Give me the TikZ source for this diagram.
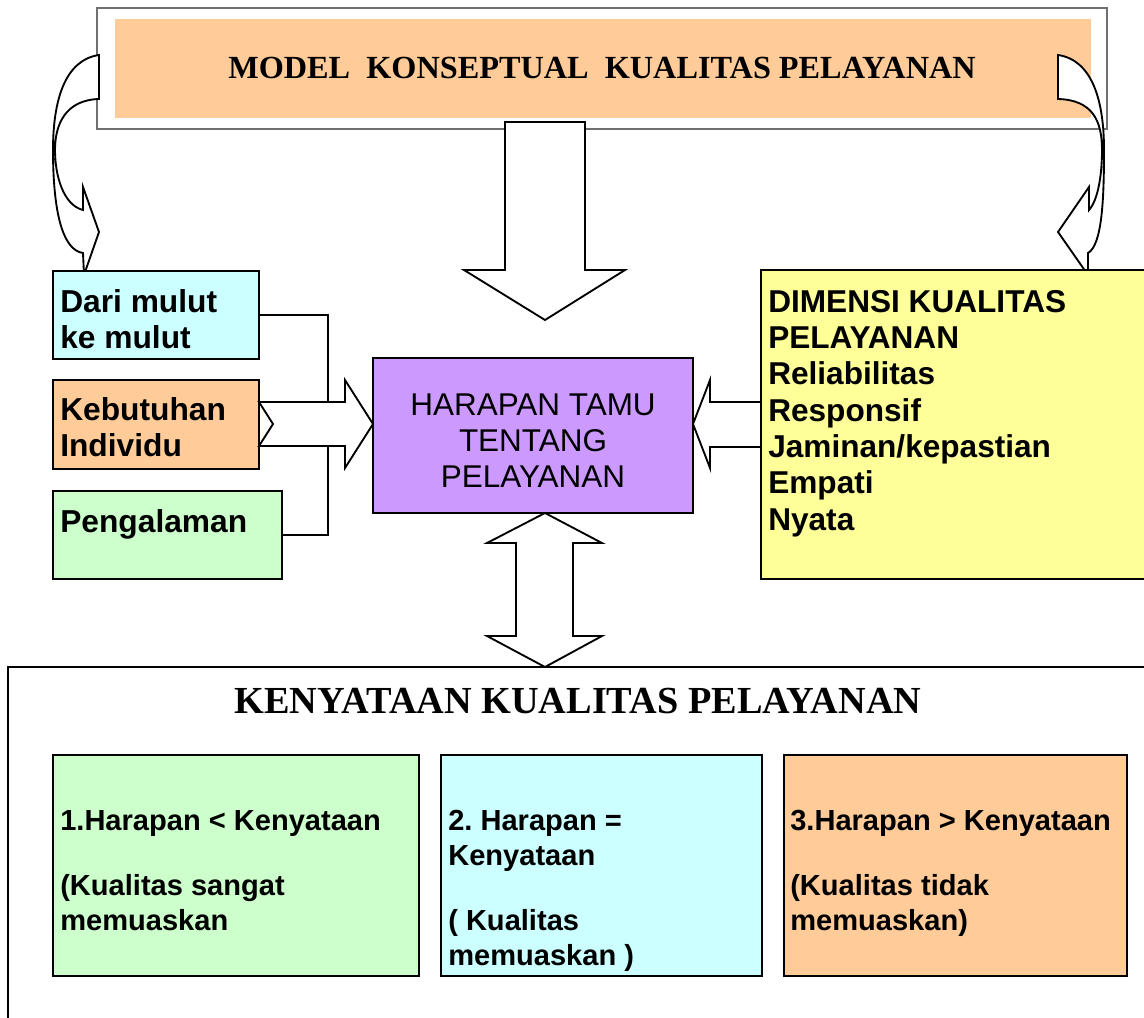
\documentclass[tikz,border=0pt]{standalone}
\usepackage{fontspec}
\setmainfont{Liberation Sans}
\newfontfamily\titlefont{Liberation Serif}
\usetikzlibrary{fit}
\frenchspacing

\definecolor{orangebox}{HTML}{FFCC99}
\definecolor{cyanbox}{HTML}{CCFFFF}
\definecolor{greenbox}{HTML}{CCFFCC}
\definecolor{purplebox}{HTML}{CC99FF}
\definecolor{yellowbox}{HTML}{FFFF99}
\definecolor{frame}{HTML}{707070}

\tikzset{
  box/.style={draw=black, line width=1.4pt, inner sep=0pt},
  blockarrow/.style={draw=black, fill=white, line width=1.4pt, line join=miter},
  link/.style={draw=black, line width=1.4pt},
  txt/.style={inner sep=0pt, anchor=base west},
  sidefont/.style={font=\bfseries\fontsize{23.8}{27}\selectfont},
  dimfont/.style={font=\bfseries\fontsize{23.7}{27.25}\selectfont},
  midfont/.style={font=\fontsize{23.6}{27}\selectfont},
  lowfont/.style={font=\bfseries\fontsize{21.8}{26.25}\selectfont},
}

\begin{document}
\begin{tikzpicture}[x=0.75pt, y=-0.75pt]
\useasboundingbox (0,0) rectangle (1144,1017);

% heading panel
\node[draw=frame, line width=1pt, fill=white, inner sep=0pt,
      fit={(97,8) (1107,129)}] (head) {};
\node[fill=orangebox, inner sep=0pt, fit={(115,19) (1091,118)}] (headfill) {};
\node[inner sep=0pt, anchor=base, font=\titlefont\bfseries\fontsize{24.2}{28}\selectfont]
  (headtxt) at (602,78) {MODEL\ \ KONSEPTUAL\ \ KUALITAS PELAYANAN};

% curved arrow down the left side
\draw[blockarrow] (99,55) .. controls (65,60) and (53,100) .. (53,150)
  .. controls (53,210) and (62,250) .. (83,253) -- (84,275) -- (99,232)
  -- (83,187) -- (83,210) .. controls (63,205) and (55,175) .. (55,150)
  .. controls (55,125) and (65,100) .. (99,99) -- cycle;

% curved arrow down the right side
\draw[blockarrow] (1058,55) .. controls (1092,60) and (1104,100) .. (1104,150)
  .. controls (1104,200) and (1102,245) .. (1088,253) -- (1088,275) -- (1058,232)
  -- (1089,187) -- (1089,210) .. controls (1098,200) and (1102,175) .. (1102,150)
  .. controls (1102,120) and (1092,100) .. (1058,99) -- cycle;

% central down arrow
\draw[blockarrow] (505,122) -- (585,122) -- (585,270) -- (625,270) -- (545,320)
  -- (464,270) -- (505,270) -- cycle;

% left column
\node[box, fill=cyanbox, fit={(53,271) (259,359)}] (dari) {};
\node[box, fill=orangebox, fit={(53,380) (259,469)}] (kebutuhan) {};
\node[box, fill=greenbox, fit={(53,491) (282,579)}] (pengalaman) {};
\node[txt, sidefont] (daritxt) at (60,312)
  {\begin{tabular}[t]{@{}l@{}}Dari mulut\\ke mulut\end{tabular}};
\node[txt, sidefont] (kebtxt) at (60,420)
  {\begin{tabular}[t]{@{}l@{}}Kebutuhan\\Individu\end{tabular}};
\node[txt, sidefont] (pengtxt) at (60,532) {Pengalaman};

% centre box
\node[box, fill=purplebox, fit={(373,358) (693,513)}] (harapan) {};
\node[inner sep=0pt, anchor=base, midfont] (harapantxt) at (533,415)
  {\begin{tabular}[t]{@{}c@{}}HARAPAN TAMU\\TENTANG\\PELAYANAN\end{tabular}};

% joining lines and notched arrow into the centre box
\coordinate (jtop) at (328,402);
\coordinate (jbot) at (328,446);
\draw[link] (dari.east) -| (jtop);
\draw[link] (pengalaman.east) -| (jbot);
\draw[blockarrow] (259,402) -- (345,402) -- (345,380) -- (373,424) -- (345,468)
  -- (345,446) -- (259,446) -- (273,424) -- cycle;

% arrow from the dimensions box
\draw[blockarrow] (765,402) -- (710,402) -- (710,380) -- (693,424) -- (710,468)
  -- (710,447) -- (765,447) -- cycle;

% dimensions box
\node[box, fill=yellowbox, fit={(761,270) (1160,579)}] (dimensi) {};
\node[txt, dimfont] (dimtxt) at (768,312)
  {\begin{tabular}[t]{@{}l@{}}DIMENSI KUALITAS\\PELAYANAN\\Reliabilitas\\Responsif\\Jaminan/kepastian\\Empati\\Nyata\end{tabular}};

% lower panel
\node[box, fit={(8,667) (1160,1030)}] (kenyataan) {};
\draw[blockarrow] (545,513) -- (602,543) -- (573,543) -- (573,636) -- (602,636)
  -- (545,667) -- (487,636) -- (516,636) -- (516,543) -- (487,543) -- cycle;
\node[inner sep=0pt, anchor=base, font=\titlefont\bfseries\fontsize{28.7}{32}\selectfont]
  (kentxt) at (578,713) {KENYATAAN KUALITAS PELAYANAN};

\node[box, fill=greenbox, fit={(53,755) (419,976)}] (case1) {};
\node[box, fill=cyanbox, fit={(441,755) (762,976)}] (case2) {};
\node[box, fill=orangebox, fit={(784,755) (1127,976)}] (case3) {};

\node[txt, lowfont] (case1txt) at (60,830)
  {\begin{tabular}[t]{@{}l@{}}1.Harapan < Kenyataan\\[22.5pt](Kualitas sangat\\memuaskan\end{tabular}};
\node[txt, lowfont] (case2txt) at (448,830)
  {\begin{tabular}[t]{@{}l@{}}2. Harapan =\\Kenyataan\\[22.5pt]( Kualitas\\memuaskan )\end{tabular}};
\node[txt, lowfont] (case3txt) at (790,830)
  {\begin{tabular}[t]{@{}l@{}}3.Harapan > Kenyataan\\[22.5pt](Kualitas tidak\\memuaskan)\end{tabular}};
\end{tikzpicture}
\end{document}
